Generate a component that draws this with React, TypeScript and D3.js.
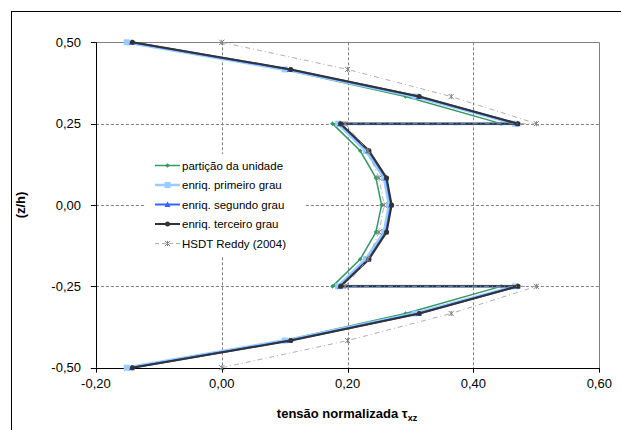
import React from 'react';
import * as d3 from 'd3';

// posições (z/h) ao longo da espessura
const zh = [0.5, 0.4167, 0.3333, 0.25, 0.25, 0.1667, 0.0833, 0, -0.0833, -0.1667, -0.25, -0.25, -0.3333, -0.4167, -0.5];

const particao = [-0.148, 0.100, 0.292, 0.444, 0.176, 0.220, 0.245, 0.254, 0.245, 0.220, 0.176, 0.444, 0.292, 0.100, -0.148];
const primeiro = [-0.151, 0.100, 0.307, 0.466, 0.185, 0.229, 0.258, 0.266, 0.258, 0.229, 0.185, 0.466, 0.307, 0.100, -0.151];
const segundo = [-0.143, 0.108, 0.313, 0.470, 0.188, 0.233, 0.261, 0.269, 0.261, 0.233, 0.188, 0.470, 0.313, 0.108, -0.143];
const terceiro = [-0.142, 0.110, 0.314, 0.471, 0.189, 0.234, 0.262, 0.270, 0.262, 0.234, 0.189, 0.471, 0.314, 0.110, -0.142];
const reddy = [0.0, 0.2, 0.3646, 0.5, 0.196, 0.232, 0.250, 0.258, 0.250, 0.232, 0.196, 0.5, 0.3646, 0.2, 0.0];

const xTicks = [-0.2, 0, 0.2, 0.4, 0.6];
const yTicks = [0.5, 0.25, 0, -0.25, -0.5];

const series = [
  { name: 'partição da unidade', values: particao, color: '#339966', width: 1.5, marker: 'diamond', dash: '' },
  { name: 'enriq. primeiro grau', values: primeiro, color: '#99CCFF', width: 3, marker: 'square', dash: '' },
  { name: 'enriq. segundo grau', values: segundo, color: '#3366FF', width: 2, marker: 'triangle', dash: '' },
  { name: 'enriq. terceiro grau', values: terceiro, color: '#333333', width: 2, marker: 'circle', dash: '' },
  { name: 'HSDT Reddy (2004)', values: reddy, color: '#999999', width: 0.8, marker: 'star', dash: '5,3,1,3' },
];

const fmt = (v: number) => v.toFixed(2).replace('.', ',');

const Marker = ({ type, x, y, color }: { type: string; x: number; y: number; color: string }) => {
  if (type === 'diamond') {
    return <path d={`M${x},${y - 2.3}L${x + 2.3},${y}L${x},${y + 2.3}L${x - 2.3},${y}Z`} fill={color} />;
  }
  if (type === 'square') {
    return <rect x={x - 3} y={y - 3} width={6} height={6} fill={color} />;
  }
  if (type === 'triangle') {
    return <path d={`M${x},${y - 3}L${x + 3},${y + 2.5}L${x - 3},${y + 2.5}Z`} fill={color} />;
  }
  if (type === 'circle') {
    return <circle cx={x} cy={y} r={2.5} fill={color} />;
  }
  const s = 2.6;
  return (
    <path
      d={`M${x - s},${y - s}L${x + s},${y + s}M${x - s},${y + s}L${x + s},${y - s}M${x},${y - s}L${x},${y + s}`}
      stroke="#808080"
      strokeWidth={1}
      fill="none"
    />
  );
};

export default function App() {
  const width = 621;
  const height = 430;
  const x = d3.scaleLinear().domain([-0.2, 0.6]).range([95.9, 599.3]);
  const y = d3.scaleLinear().domain([-0.5, 0.5]).range([367.7, 42.3]);

  const line = d3
    .line<number>()
    .x((d) => x(d))
    .y((_, i) => y(zh[i]));

  const legendX = 155;
  const legendY = 165.5;
  const legendStep = 19.5;

  return (
    <div style={{ position: 'absolute', left: 0, top: 0 }}>
      <svg width={width} height={height} style={{ display: 'block', fontFamily: 'Arial, "Liberation Sans", sans-serif' }}>
        <rect x={0} y={0} width={width} height={height} fill="#fff" />
        <rect x={11.5} y={11.5} width={width} height={height} fill="none" stroke="#000" strokeWidth={1} />

        {/* grade */}
        {yTicks.filter((t) => t !== 0.5 && t !== -0.5).map((t) => (
          <line key={'gy' + t} x1={x(-0.2)} x2={x(0.6)} y1={Math.round(y(t)) + 0.5} y2={Math.round(y(t)) + 0.5} stroke="#808080" strokeDasharray="3,2" />
        ))}
        {xTicks.filter((t) => t !== -0.2 && t !== 0.6).map((t) => (
          <line key={'gx' + t} x1={Math.round(x(t)) + 0.5} x2={Math.round(x(t)) + 0.5} y1={y(0.5)} y2={y(-0.5)} stroke="#808080" strokeDasharray="3,2" />
        ))}
        <line x1={x(-0.2)} x2={x(0.6)} y1={Math.round(y(0.5)) + 0.5} y2={Math.round(y(0.5)) + 0.5} stroke="#808080" />
        <line x1={Math.round(x(0.6)) + 0.5} x2={Math.round(x(0.6)) + 0.5} y1={y(0.5)} y2={y(-0.5)} stroke="#808080" />

        {/* eixos */}
        <line x1={Math.round(x(-0.2)) + 0.5} x2={Math.round(x(-0.2)) + 0.5} y1={y(0.5)} y2={y(-0.5)} stroke="#000" />
        <line x1={x(-0.2) - 5} x2={x(0.6)} y1={Math.round(y(-0.5)) + 0.5} y2={Math.round(y(-0.5)) + 0.5} stroke="#000" />
        {yTicks.map((t) => (
          <g key={'ty' + t}>
            <line x1={x(-0.2) - 5} x2={x(-0.2)} y1={Math.round(y(t)) + 0.5} y2={Math.round(y(t)) + 0.5} stroke="#000" />
            <text x={81} y={y(t)} dy="0.35em" textAnchor="end" fontSize={13}>{fmt(t)}</text>
          </g>
        ))}
        {xTicks.map((t) => (
          <g key={'tx' + t}>
            <line x1={Math.round(x(t)) + 0.5} x2={Math.round(x(t)) + 0.5} y1={y(-0.5)} y2={y(-0.5) + 5} stroke="#000" />
            <text x={x(t)} y={388} textAnchor="middle" fontSize={13}>{fmt(t)}</text>
          </g>
        ))}

        <text x={347} y={418} textAnchor="middle" fontSize={13} fontWeight="bold">
          tensão normalizada τ<tspan fontSize={9} dy={3}>xz</tspan>
        </text>
        <text transform={`translate(25,${y(0)}) rotate(-90)`} textAnchor="middle" fontSize={13} fontWeight="bold">(z/h)</text>

        {/* séries */}
        {series.map((s) => (
          <g key={s.name}>
            <path d={line(s.values) ?? ''} fill="none" stroke={s.color} strokeWidth={s.width} strokeDasharray={s.dash || undefined} />
            {s.values.map((v, i) => (
              <Marker key={i} type={s.marker} x={x(v)} y={y(zh[i])} color={s.color} />
            ))}
          </g>
        ))}

        {/* legenda */}
        <rect x={145} y={154} width={160} height={103} fill="#fff" />
        {series.map((s, i) => {
          const ly = legendY + i * legendStep;
          return (
            <g key={'lg' + s.name}>
              <line x1={legendX} x2={legendX + 25} y1={ly} y2={ly} stroke={s.color} strokeWidth={s.width === 3 ? 2.5 : s.width} strokeDasharray={s.dash ? '4,3' : undefined} />
              <Marker type={s.marker} x={legendX + 12.5} y={ly} color={s.color} />
              <text x={legendX + 27} y={ly} dy="0.35em" fontSize={11.5}>{s.name}</text>
            </g>
          );
        })}
      </svg>
    </div>
  );
}
